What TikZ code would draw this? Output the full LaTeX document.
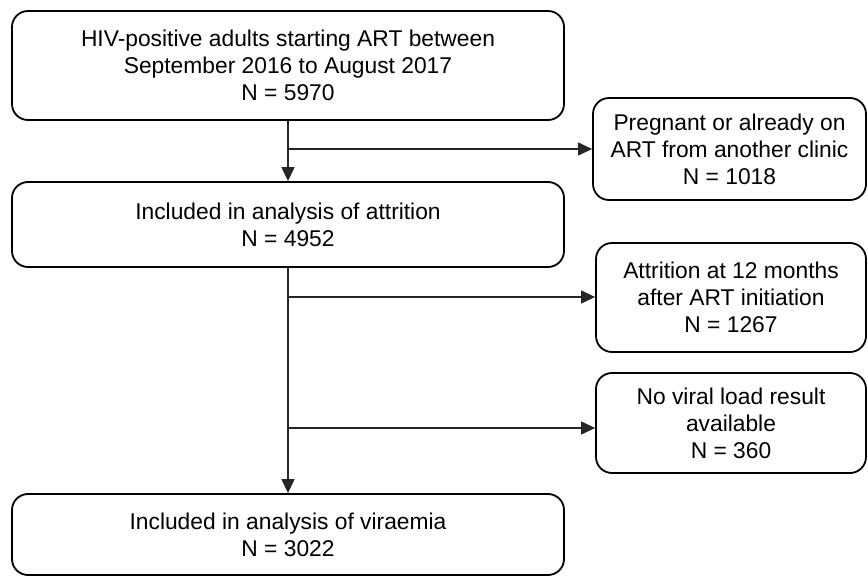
\documentclass[tikz,border=0pt]{standalone}
\usepackage{fontspec}
\setmainfont{Liberation Sans}
\usetikzlibrary{arrows.meta}
\begin{document}
\begin{tikzpicture}[x=1pt,y=-1pt,
  box/.style={draw=black, line width=1.8pt, rounded corners=16pt, align=center,
    inner sep=0pt, font=\fontsize{22.8}{27}\selectfont},
  conn/.style={line width=1.2pt, draw=black!85},
  arr/.style={conn, -{Triangle[length=14pt,width=13pt]}}]
\useasboundingbox (0,0) rectangle (868,577);
\node[box, minimum width=552pt, minimum height=109pt] (b1) at (288,65.5)
  {HIV-positive adults starting ART between\\September 2016 to August 2017\\N = 5970};
\node[box, minimum width=273pt, minimum height=102pt] (b2) at (729.5,149)
  {Pregnant or already on\\ART from another clinic\\N = 1018};
\node[box, minimum width=552pt, minimum height=85pt] (b3) at (288,224.5)
  {Included in analysis of attrition\\N = 4952};
\node[box, minimum width=270pt, minimum height=109pt] (b4) at (731,297.5)
  {Attrition at 12 months\\after ART initiation\\N = 1267};
\node[box, minimum width=270pt, minimum height=100pt] (b5) at (731,423)
  {No viral load result\\available\\N = 360};
\node[box, minimum width=552pt, minimum height=81pt] (b6) at (288,534.5)
  {Included in analysis of viraemia\\N = 3022};
\coordinate (c1) at (288,149);
\coordinate (c2) at (288,297);
\coordinate (c3) at (288,428);
\draw[arr] (b1.south) -- (b3.north);
\draw[arr] (c1) -- (b2.west);
\draw[arr] (b3.south) -- (b6.north);
\draw[arr] (c2) -- (c2 -| b4.west);
\draw[arr] (c3) -- (c3 -| b5.west);
\end{tikzpicture}
\end{document}
